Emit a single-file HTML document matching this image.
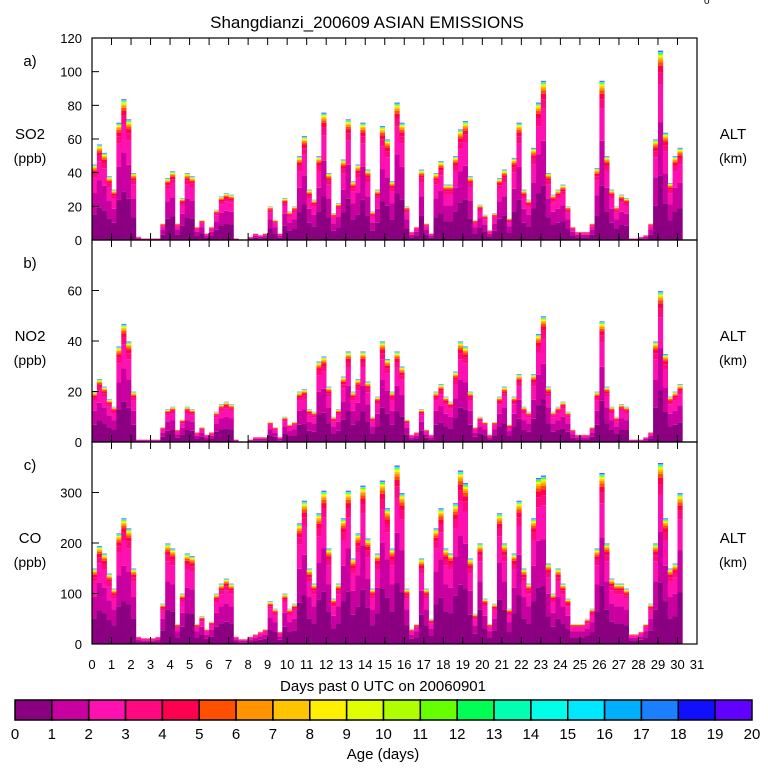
<!DOCTYPE html>
<html><head><meta charset="utf-8"><style>
body{margin:0;background:#fff;}
svg text{font-family:"Liberation Sans",sans-serif;fill:#000;}
</style></head><body>
<svg id="chart" width="768" height="768" xmlns="http://www.w3.org/2000/svg">
<text x="367" y="28" font-size="17" text-anchor="middle">Shangdianzi_200609 ASIAN EMISSIONS</text>
<text x="704" y="4" font-size="10">0</text>
<g id="panels"></g>
<text x="383" y="691" font-size="15" text-anchor="middle">Days past 0 UTC on 20060901</text>
<g id="cbar"></g>
<text x="383" y="759" font-size="15" text-anchor="middle">Age (days)</text>
</svg>
<script>
const so2 = [45,57,52,38, 30,70,84,72, 40,2,1,1, 1,1,10,37, 41,10,25,40, 38,8,12,4, 8,18,26,28, 27,1,0,0, 2,4,3,4, 20,12,4,25,
 17,20,50,62, 30,24,50,76, 40,16,22,48, 72,35,45,70, 42,17,30,68, 60,35,82,70, 20,5,8,42, 10,4,40,47, 33,33,50,66, 71,38,12,21,
 15,6,16,37, 42,13,49,70, 30,24,55,82, 95,40,27,30, 33,20,8,5, 5,5,10,43, 95,50,30,20, 27,25,1,1, 2,3,10,60, 113,64,34,50, 55];
const no2 = [20,25,22,17, 14,38,47,40, 20,1,1,1, 1,1,6,13, 14,5,9,14, 13,4,6,3, 4,12,15,16, 15,1,0,0, 1,2,2,2, 8,6,2,10,
 7,8,20,21, 13,12,32,34, 22,10,13,26, 36,20,25,36, 24,10,18,40, 33,20,36,30, 9,3,4,13, 5,3,20,23, 18,16,28,40, 38,20,6,10,
 8,3,8,18, 22,7,18,27, 14,12,27,43, 50,22,12,14, 16,12,5,3, 3,3,6,20, 48,22,14,10, 15,14,1,1, 1,2,4,40, 60,35,18,20, 23];
const co = [150,195,180,140, 110,220,250,230, 150,15,12,12, 12,15,80,200, 190,40,100,180, 175,40,55,30, 45,100,120,130, 120,15,10,10, 15,20,25,30, 85,70,25,100,
 70,80,240,285, 150,120,260,305, 190,90,120,250, 305,170,220,315, 210,110,180,325, 270,190,355,300, 110,30,40,170, 110,50,230,270, 190,180,280,345, 320,170,60,200,
 90,40,80,260, 200,70,180,285, 150,120,250,330, 335,160,100,150, 120,90,40,40, 40,50,70,190, 340,200,130,120, 120,110,20,20, 25,40,80,200, 360,250,150,160, 300];
const ageFractions = [0.34,0.28,0.2,0.06,0.035,0.02,0.015,0.01,0.006,0.005,0.004,0.003,0.003,0.002,0.002,0.002,0.002,0.002,0.002,0.002];
const ageColors = ['#8a0080','#c800a0','#ff10b0','#ff0880','#ff0050','#ff5000','#ff9400','#ffc400','#fff000','#e0ff00','#b0ff00','#66ff00','#00ff55','#00ffb0','#00ffe8','#00e8ff','#00b0ff','#1a80ff','#1010ff','#6000ff'];
const dayTicks = Array.from({length:32},(_, i)=>i);
const cbarTicks = Array.from({length:21},(_, i)=>i);
const panels = [
 {key:'so2', data:so2, max:120, ticks:[0,20,40,60,80,100,120], top:38, label:'SO2', letter:'a)'},
 {key:'no2', data:no2, max:80, ticks:[0,20,40,60], top:240, label:'NO2', letter:'b)'},
 {key:'co', data:co, max:400, ticks:[0,100,200,300], top:442, label:'CO', letter:'c)'}
];
const NS='http://www.w3.org/2000/svg';
const X0=92, X1=697, H=202;
const xScale = d => X0 + (X1-X0)*d/31;
function mk(tag, attrs, parent){const e=document.createElementNS(NS,tag);for(const k in attrs)e.setAttribute(k,attrs[k]);parent.appendChild(e);return e;}
const pg=document.getElementById('panels');
panels.forEach(p=>{
  const g=mk('g',{},pg);
  
  
  const yScale = v => p.top + H - H*v/p.max;
  const bw = xScale(0.25)-xScale(0);
  p.data.forEach((v,i)=>{
    let cum=0;
    ageFractions.forEach((f,a)=>{
      const y0=yScale(cum), y1=yScale(cum+v*f);
      cum+=v*f;
      if(y0-y1<=0.05) return;
      const r=mk('rect',{x:xScale(i/4).toFixed(2),y:y1.toFixed(2),width:(bw+0.3).toFixed(2),height:(y0-y1).toFixed(2),fill:ageColors[a]},g);
      
      
    });
  });
  const fr=mk('rect',{x:X0,y:p.top,width:X1-X0,height:H,fill:'none',stroke:'#000','stroke-width':1.2},g);
  
  
  dayTicks.forEach(d=>{
    const x=xScale(d);
    mk('line',{x1:x,x2:x,y1:p.top+H,y2:p.top+H-7,stroke:'#000'},g);
    mk('line',{x1:x,x2:x,y1:p.top,y2:p.top+7,stroke:'#000'},g);
  });
  p.ticks.forEach(t=>{
    const y=yScale(t);
    mk('line',{x1:X0,x2:X0+7,y1:y,y2:y,stroke:'#000'},g);
    const tx=mk('text',{x:82,y:y+5,'font-size':13,'text-anchor':'end'},g);
    tx.textContent=t;
    
    
  });
  const lt=mk('text',{x:30,y:p.top+28,'font-size':15,'text-anchor':'middle'},g); lt.textContent=p.letter;
  
  
  const yl=mk('text',{x:30,y:p.top+101,'font-size':15,'text-anchor':'middle'},g); yl.textContent=p.label;
  
  
  const yu=mk('text',{x:30,y:p.top+125,'font-size':14,'text-anchor':'middle'},g); yu.textContent='(ppb)';
  
  
  const ra=mk('text',{x:733,y:p.top+101,'font-size':15,'text-anchor':'middle'},g); ra.textContent='ALT';
  
  
  const rk=mk('text',{x:733,y:p.top+125,'font-size':14,'text-anchor':'middle'},g); rk.textContent='(km)';
  
  
});
dayTicks.forEach(d=>{
  const t=mk('text',{x:xScale(d),y:669,'font-size':13,'text-anchor':'middle','font-family':'Liberation Serif'},pg);
  t.textContent=d;
  
  
});
const cb=document.getElementById('cbar');
const CX0=15, CX1=752, cw=(CX1-CX0)/20;
ageColors.forEach((c,i)=>{
  const r=mk('rect',{x:CX0+i*cw,y:700,width:cw,height:20,fill:c,stroke:'#000','stroke-width':1.5},cb);
  
  
});
cbarTicks.forEach(i=>{
  const t=mk('text',{x:CX0+i*cw,y:739,'font-size':15,'text-anchor':'middle'},cb);
  t.textContent=i;
  
  
});
</script>
</body></html>
